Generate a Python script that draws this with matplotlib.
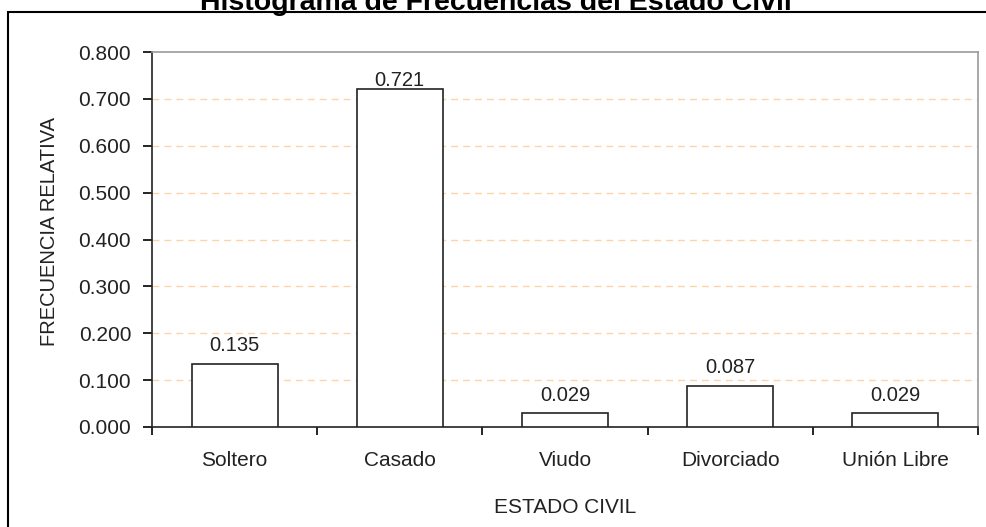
import matplotlib.pyplot as plt
from matplotlib.patches import Rectangle
import numpy as np

categorias = ["Soltero", "Casado", "Viudo", "Divorciado", "Unión Libre"]
frecuencia_relativa = [0.135, 0.721, 0.029, 0.087, 0.029]
y_ticks = [0.0, 0.1, 0.2, 0.3, 0.4, 0.5, 0.6, 0.7, 0.8]

plt.rcParams["font.family"] = ["Liberation Sans", "DejaVu Sans"]

fig = plt.figure(figsize=(9.87, 5.27), dpi=100)
ax = fig.add_axes([152 / 987, 1 - 427 / 527, 826 / 987, 375 / 527])

# marco exterior del grafico
fig.patches.append(Rectangle((8 / 987, -0.1), 1.1, 1 - 12 / 527 + 0.1,
                             transform=fig.transFigure, fill=False,
                             edgecolor="black", linewidth=1.5))

x = np.arange(len(categorias))
ax.bar(x, frecuencia_relativa, width=0.52, color="white",
       edgecolor="#222222", linewidth=1.2, zorder=3)

# etiquetas de valor sobre cada barra, sin pasarse del borde superior
for xi, v in zip(x, frecuencia_relativa):
    y_txt = min(v + 0.0275, 0.7275)
    ax.text(xi, y_txt, f"{v:.3f}", ha="center", va="baseline",
            fontsize=14.5, color="#222222", zorder=4)

ax.set_xlim(-0.5, len(categorias) - 0.5)
ax.set_ylim(0, 0.8)
ax.set_yticks(y_ticks)
ax.set_yticklabels([f"{t:.3f}" for t in y_ticks])
for t in y_ticks[1:-1]:
    ax.axhline(t, color="#FFD3A8", linestyle=(0, (5, 3.6)), linewidth=1.0, zorder=1)

ax.set_xticks(x)
ax.set_xticklabels(categorias)
ax.set_xticks(np.arange(-0.5, len(categorias)), minor=True)
ax.tick_params(axis="x", which="major", length=0, pad=17.5, labelsize=15,
               labelcolor="#222222")
ax.tick_params(axis="x", which="minor", length=6, direction="out", width=1.2)
ax.tick_params(axis="y", length=6.5, direction="out", width=1.2, pad=8.5,
               labelsize=15, labelcolor="#222222")

for side in ["top", "right"]:
    ax.spines[side].set_color("#999999")
    ax.spines[side].set_linewidth(1.2)
for side in ["left", "bottom"]:
    ax.spines[side].set_color("#222222")
    ax.spines[side].set_linewidth(1.2)

ax.set_ylabel("FRECUENCIA RELATIVA", fontsize=14.5, color="#222222")
ax.yaxis.set_label_coords(-0.1126, 0.52)
ax.set_xlabel("ESTADO CIVIL", fontsize=15, color="#222222", labelpad=20)

fig.text(496 / 987, 1 - 10 / 527, "Histograma de Frecuencias del Estado Civil",
         ha="center", va="baseline", fontsize=20.5, fontweight="bold")

fig.savefig("out.png", dpi=100)
